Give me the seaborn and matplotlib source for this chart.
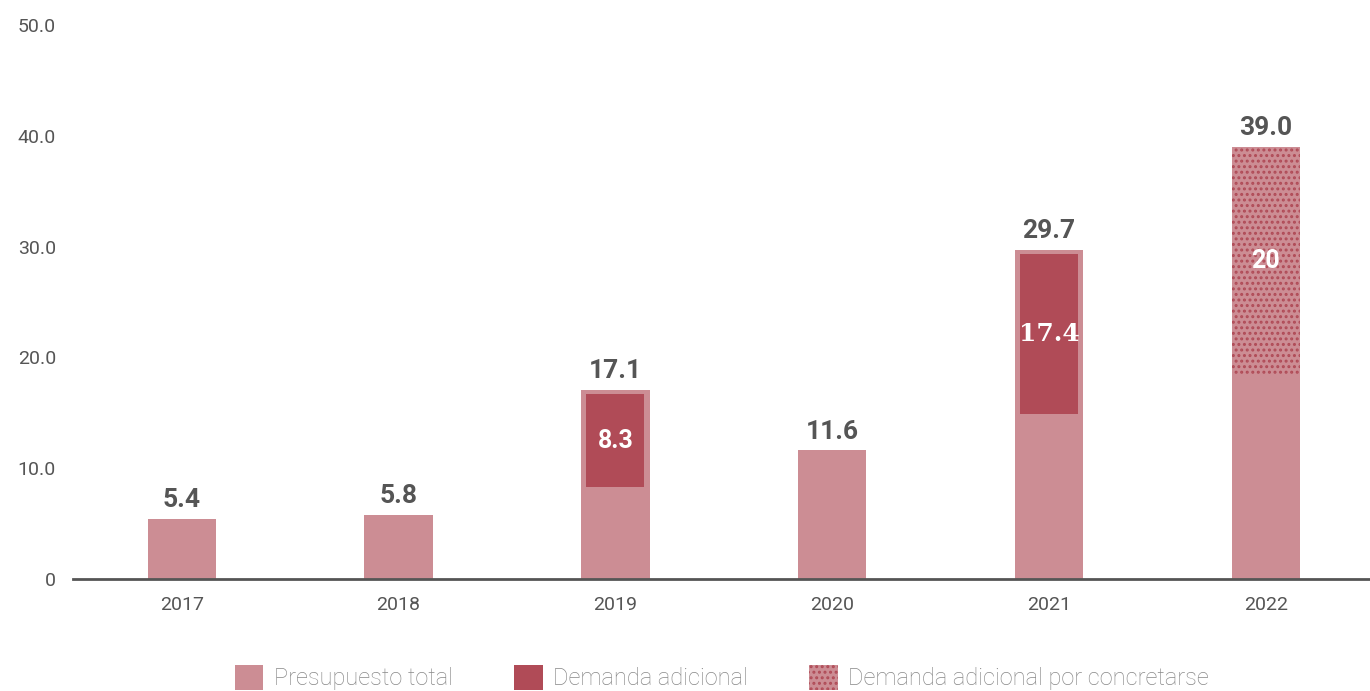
import matplotlib
matplotlib.use("Agg")
import matplotlib.pyplot as plt
from matplotlib.patches import Patch
import seaborn as sns
import pandas as pd

# datos
years = ['2017', '2018', '2019', '2020', '2021', '2022']
presupuesto = [5.4, 5.8, 17.1, 11.6, 29.7, 39.0]

# demanda adicional (barra interior oscura)
dem_years = ['2019', '2021']
dem_bottom = [8.3, 14.9]
dem_top = [16.7, 29.3]
dem_labels = ['8.3', '17.4']

# demanda adicional por concretarse (punteado)
conc_years = ['2022']
conc_bottom = [18.4]
conc_top = [39.0]
conc_labels = ['20']

pink = '#cc8d94'
dark = '#b04b57'
gray = '#555555'

sns.set_style("white")
plt.rcParams['font.family'] = ['Roboto', 'DejaVu Sans']
plt.rcParams['hatch.linewidth'] = 1.4

df = pd.DataFrame({'year': years, 'value': presupuesto})

fig = plt.figure(figsize=(13.7, 6.91), dpi=100)
ax = fig.add_axes([0.053, 0.162, 0.947, 0.802])

sns.barplot(data=df, x='year', y='value', color=pink, saturation=1,
            width=0.315, ax=ax, linewidth=0)

pos = {y: i for i, y in enumerate(years)}

# barras interiores
for y, b, t, lab in zip(dem_years, dem_bottom, dem_top, dem_labels):
    ax.bar(pos[y], t - b, bottom=b, width=0.268, color=dark, linewidth=0, zorder=3)
    fam = ['DejaVu Serif'] if lab == '17.4' else ['Roboto', 'DejaVu Sans']
    ax.text(pos[y], (b + t) / 2, lab, ha='center', va='center', color='white',
            fontsize=18, fontweight='bold', family=fam, zorder=4)

for y, b, t, lab in zip(conc_years, conc_bottom, conc_top, conc_labels):
    ax.bar(pos[y], t - b, bottom=b, width=0.315, facecolor=pink, edgecolor=dark,
           hatch='...', linewidth=0, zorder=3)
    ax.text(pos[y], (b + t) / 2, lab, ha='center', va='center', color='white',
            fontsize=18, fontweight='bold', zorder=4)

# etiquetas de total
for i, v in enumerate(presupuesto):
    ax.annotate(f'{v:.1f}', (i, v), xytext=(0, 5), textcoords='offset points',
                ha='center', va='bottom', fontsize=19, fontweight='bold', color=gray)

ax.set_xlim(-0.503, 5.48)
ax.set_ylim(0, 50)
ax.set_yticks([0, 10, 20, 30, 40, 50])
ax.set_yticklabels(['0', '10.0', '20.0', '30.0', '40.0', '50.0'])
ax.set_xlabel('')
ax.set_ylabel('')
ax.tick_params(axis='both', length=0, labelsize=14, colors=gray)
ax.tick_params(axis='x', pad=12)
ax.tick_params(axis='y', pad=12)
for s in ['top', 'right', 'left']:
    ax.spines[s].set_visible(False)
ax.spines['bottom'].set_color('#555555')
ax.spines['bottom'].set_linewidth(2)
ax.grid(False)

handles = [Patch(facecolor=pink, linewidth=0),
           Patch(facecolor=dark, linewidth=0),
           Patch(facecolor=pink, edgecolor=dark, hatch='...', linewidth=0)]
labels = ['Presupuesto total', 'Demanda adicional', 'Demanda adicional por concretarse']
leg = fig.legend(handles, labels, loc='lower center', ncol=3, frameon=False,
                 bbox_to_anchor=(0.527, -0.03), fontsize=17, handlelength=1.2,
                 handleheight=1.2, handletextpad=0.45, columnspacing=2.6)
for t in leg.get_texts():
    t.set_color('#888888')
    t.set_fontweight('light')

fig.savefig('out.png', dpi=100)
